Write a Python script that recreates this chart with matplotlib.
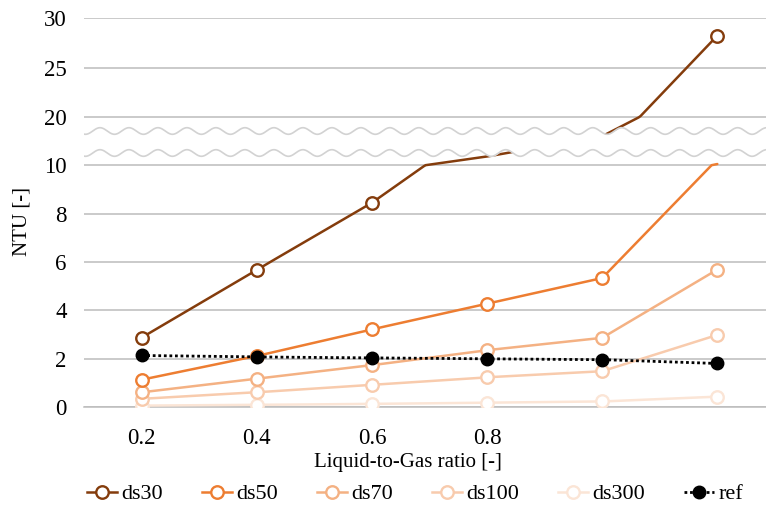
import numpy as np
import matplotlib
matplotlib.use("Agg")
import matplotlib.pyplot as plt
from matplotlib.lines import Line2D

# ---------------- data ----------------
categories = ["0.2", "0.4", "0.6", "0.8", "", ""]
ds30 = [2.88, 5.68, 8.45, 11.8, 16.0, 28.24]
ds50 = [1.14, 2.12, 3.22, 4.28, 5.34, 10.25]
ds70 = [0.62, 1.18, 1.74, 2.36, 2.87, 5.69]
ds100 = [0.35, 0.62, 0.93, 1.24, 1.49, 2.99]
ds300 = [0.07, 0.10, 0.14, 0.19, 0.24, 0.44]
ref = [2.14, 2.08, 2.04, 2.00, 1.97, 1.81]
series_names = ["ds30", "ds50", "ds70", "ds100", "ds300", "ref"]
series_values = [ds30, ds50, ds70, ds100, ds300, ref]
series_colors = ["#843C0C", "#ED7D31", "#F4B183", "#F8CBAD", "#FBE5D6", "#000000"]
yticks = [0, 2, 4, 6, 8, 10, 20, 25, 30]

# broken axis: 0-10 full scale, 10-20 compressed, 20-30 reduced
BRK_DATA = [0.0, 10.0, 20.0, 30.0]
BRK_DISP = [0.0, 10.0, 12.0, 16.07]
BREAK_LO, BREAK_HI = 10.0, 20.0


def _pw(v, xs, ys):
    v = np.asarray(v, dtype=float)
    out = np.interp(v, xs, ys)
    out = np.where(v < xs[0], ys[0] + (v - xs[0]) * (ys[1] - ys[0]) / (xs[1] - xs[0]), out)
    out = np.where(v > xs[-1], ys[-1] + (v - xs[-1]) * (ys[-1] - ys[-2]) / (xs[-1] - xs[-2]), out)
    return out


def fwd(v):
    return _pw(v, BRK_DATA, BRK_DISP)


def inv(v):
    return _pw(v, BRK_DISP, BRK_DATA)


plt.rcParams["font.family"] = ["Liberation Serif", "DejaVu Serif"]

W, H = 766, 507
fig = plt.figure(figsize=(W / 100, H / 100), dpi=100)
left_px, right_px, top_px, bot_px = 84.1, 774.9, 18.3, 407.3
ax = fig.add_axes([left_px / W, 1 - bot_px / H, (right_px - left_px) / W, (bot_px - top_px) / H])
ax.set_yscale("function", functions=(fwd, inv))
ax.set_ylim(0, 30)
ax.set_xlim(-0.5, len(categories) - 0.5)

n = len(categories)
xi = np.arange(n)


def dense_path(vals, steps=60):
    xs, ys = [], []
    for i in range(n - 1):
        t = np.linspace(0, 1, steps, endpoint=False)
        xs.append(xi[i] + t)
        ys.append(vals[i] + (vals[i + 1] - vals[i]) * t)
    xs.append([xi[-1]])
    ys.append([vals[-1]])
    return np.concatenate(xs), np.concatenate(ys)


handles = []
for k, (name, vals, col) in enumerate(zip(series_names, series_values, series_colors)):
    vals = np.asarray(vals, dtype=float)
    dx, dy = dense_path(vals)
    show = ~((vals > BREAK_LO) & (vals < BREAK_HI))
    if name == "ref":
        ax.plot(dx, dy, color=col, lw=2.0, ls=(0, (1, 1)), zorder=3)
        ax.plot(xi[show], vals[show], "o", color=col, ms=9, mec=col, mfc=col, zorder=3.5)
        handles.append(Line2D([], [], color=col, lw=2.0, ls=(0, (1, 1)), marker="o",
                              ms=9, mfc=col, mec=col))
    else:
        z = 3 - k * 0.1
        ax.plot(dx, dy, color=col, lw=1.8, zorder=z, solid_capstyle="round")
        ax.plot(xi[show], vals[show], "o", ls="none", ms=9, mfc="white", mec=col, mew=1.7,
                zorder=z + 0.05)
        handles.append(Line2D([], [], color=col, lw=1.8, marker="o", ms=9, mfc="white",
                              mec=col, mew=1.7))

# break band with wavy edges
px_per_unit = (bot_px - top_px) / (fwd(30) - fwd(0))
xw = np.linspace(-0.6, n, 1500)
period = 29.0 / 115.2
x_crest = (100 - 141.7) / 115.2
amp = 3.3 / px_per_unit
up_c = (bot_px - 131.0) / px_per_unit
lo_c = (bot_px - 153.0) / px_per_unit
wave = amp * np.cos(2 * np.pi * (xw - x_crest) / period)
upper = inv(up_c + wave)
lower = inv(lo_c + wave)
ax.fill_between(xw, lower, upper, color="white", lw=0, zorder=5)
ax.plot(xw, upper, color="#d2d2d2", lw=1.2, zorder=6)
ax.plot(xw, lower, color="#d2d2d2", lw=1.2, zorder=6)

# axes styling
ax.set_yticks(yticks)
ax.set_yticklabels([str(t) for t in yticks])
ax.set_xticks(xi)
ax.set_xticklabels(categories)
ax.yaxis.grid(True, color="#bcbcbc", lw=1.1)
ax.xaxis.grid(False)
ax.set_axisbelow(True)
for s in ["top", "right", "left"]:
    ax.spines[s].set_visible(False)
ax.spines["bottom"].set_color("#bcbcbc")
ax.spines["bottom"].set_linewidth(1.1)
ax.tick_params(axis="y", length=0, pad=12.5, labelsize=16.5, labelcolor="#000000")
ax.tick_params(axis="x", length=0, pad=15, labelsize=16.5, labelcolor="#000000")
ax.minorticks_off()

fig.text(408 / W, 1 - 463 / H, "Liquid-to-Gas ratio [-]", ha="center", va="center", fontsize=15)
fig.text(22 / W, 1 - 222 / H, "NTU [-]", ha="center", va="center", rotation=90, fontsize=15)

fig.legend(handles, series_names, loc="center left", bbox_to_anchor=(86.7 / W, 1 - 494 / H),
           ncol=6, frameon=False, fontsize=16, handlelength=1.35, handletextpad=0.2,
           columnspacing=1.75, borderpad=0, borderaxespad=0)

fig.savefig("out.png", dpi=100)
